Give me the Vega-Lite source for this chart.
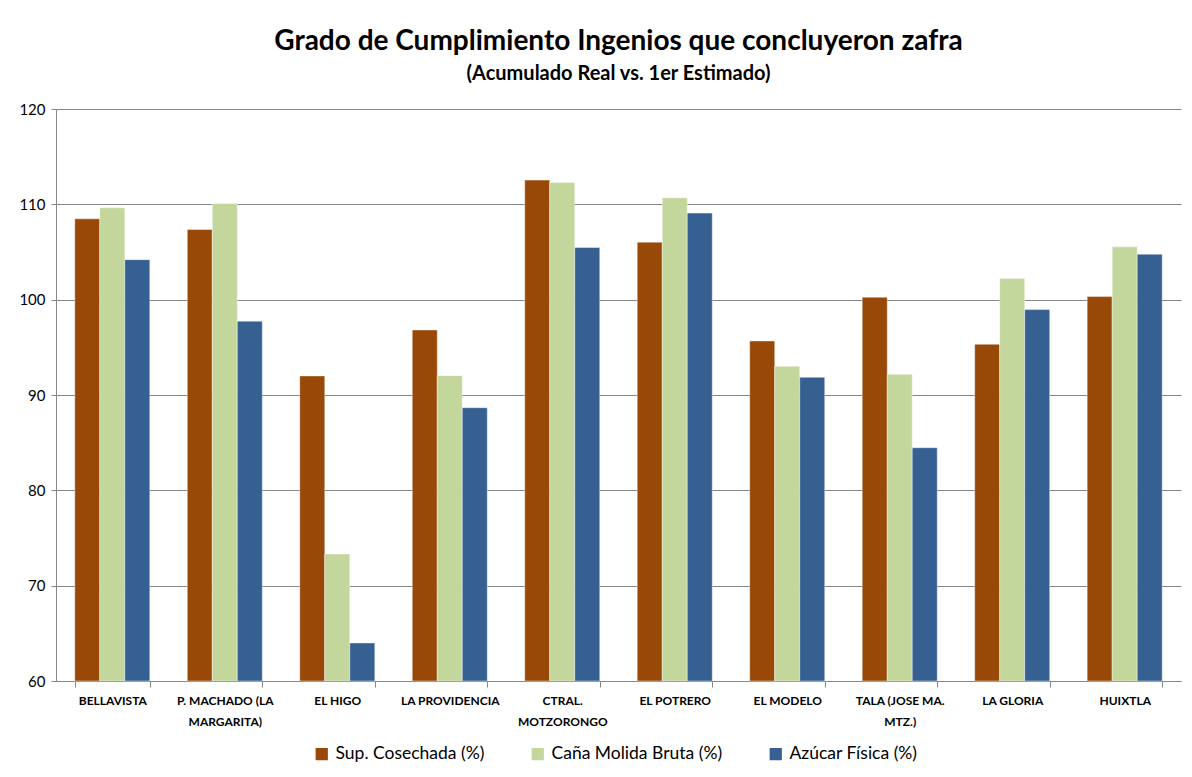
{
  "$schema": "https://vega.github.io/schema/vega-lite/v6.json",
  "autosize": {"type": "fit", "contains": "padding"},
  "width": 1192,
  "height": 777,
  "padding": {"left": 18, "right": 11, "top": 28, "bottom": 50},
  "background": "white",
  "title": {
    "text": "Grado de Cumplimiento Ingenios que concluyeron zafra",
    "subtitle": "(Acumulado Real vs. 1er Estimado)",
    "anchor": "middle",
    "font": "Lato",
    "fontSize": 28,
    "fontWeight": "bold",
    "color": "black",
    "subtitleFont": "Lato",
    "subtitleFontSize": 20,
    "subtitleFontWeight": "bold",
    "subtitleColor": "black",
    "subtitlePadding": 8,
    "offset": 18
  },
  "data": {
    "values": [
      {"ingenio": "BELLAVISTA", "serie": "Sup. Cosechada (%)", "valor": 108.48},
      {"ingenio": "BELLAVISTA", "serie": "Caña Molida Bruta (%)", "valor": 109.64},
      {"ingenio": "BELLAVISTA", "serie": "Azúcar Física (%)", "valor": 104.2},
      {"ingenio": "P. MACHADO (LA MARGARITA)", "serie": "Sup. Cosechada (%)", "valor": 107.36},
      {"ingenio": "P. MACHADO (LA MARGARITA)", "serie": "Caña Molida Bruta (%)", "valor": 110.09},
      {"ingenio": "P. MACHADO (LA MARGARITA)", "serie": "Azúcar Física (%)", "valor": 97.74},
      {"ingenio": "EL HIGO", "serie": "Sup. Cosechada (%)", "valor": 92.0},
      {"ingenio": "EL HIGO", "serie": "Caña Molida Bruta (%)", "valor": 73.33},
      {"ingenio": "EL HIGO", "serie": "Azúcar Física (%)", "valor": 63.99},
      {"ingenio": "LA PROVIDENCIA", "serie": "Sup. Cosechada (%)", "valor": 96.82},
      {"ingenio": "LA PROVIDENCIA", "serie": "Caña Molida Bruta (%)", "valor": 92.03},
      {"ingenio": "LA PROVIDENCIA", "serie": "Azúcar Física (%)", "valor": 88.67},
      {"ingenio": "CTRAL. MOTZORONGO", "serie": "Sup. Cosechada (%)", "valor": 112.54},
      {"ingenio": "CTRAL. MOTZORONGO", "serie": "Caña Molida Bruta (%)", "valor": 112.3},
      {"ingenio": "CTRAL. MOTZORONGO", "serie": "Azúcar Física (%)", "valor": 105.47},
      {"ingenio": "EL POTRERO", "serie": "Sup. Cosechada (%)", "valor": 106.03},
      {"ingenio": "EL POTRERO", "serie": "Caña Molida Bruta (%)", "valor": 110.69},
      {"ingenio": "EL POTRERO", "serie": "Azúcar Física (%)", "valor": 109.08},
      {"ingenio": "EL MODELO", "serie": "Sup. Cosechada (%)", "valor": 95.67},
      {"ingenio": "EL MODELO", "serie": "Caña Molida Bruta (%)", "valor": 93.01},
      {"ingenio": "EL MODELO", "serie": "Azúcar Física (%)", "valor": 91.86},
      {"ingenio": "TALA (JOSE MA. MTZ.)", "serie": "Sup. Cosechada (%)", "valor": 100.26},
      {"ingenio": "TALA (JOSE MA. MTZ.)", "serie": "Caña Molida Bruta (%)", "valor": 92.17},
      {"ingenio": "TALA (JOSE MA. MTZ.)", "serie": "Azúcar Física (%)", "valor": 84.47},
      {"ingenio": "LA GLORIA", "serie": "Sup. Cosechada (%)", "valor": 95.32},
      {"ingenio": "LA GLORIA", "serie": "Caña Molida Bruta (%)", "valor": 102.21},
      {"ingenio": "LA GLORIA", "serie": "Azúcar Física (%)", "valor": 98.96},
      {"ingenio": "HUIXTLA", "serie": "Sup. Cosechada (%)", "valor": 100.32},
      {"ingenio": "HUIXTLA", "serie": "Caña Molida Bruta (%)", "valor": 105.54},
      {"ingenio": "HUIXTLA", "serie": "Azúcar Física (%)", "valor": 104.77}
    ]
  },
  "mark": {"type": "bar", "stroke": "white", "strokeWidth": 0.6, "strokeOpacity": 0.7},
  "encoding": {
    "x": {
      "field": "ingenio",
      "type": "nominal",
      "sort": null,
      "scale": {"paddingInner": 0.333, "paddingOuter": 0.167},
      "axis": {
        "title": null,
        "labelAngle": 0,
        "labelFont": "Lato",
        "labelFontSize": 12,
        "labelFontWeight": "bold",
        "labelColor": "black",
        "labelPadding": 8,
        "labelLineHeight": 21,
        "labelLimit": 200,
        "labelExpr": "datum.label == 'P. MACHADO (LA MARGARITA)' ? ['P. MACHADO (LA', 'MARGARITA)'] : datum.label == 'CTRAL. MOTZORONGO' ? ['CTRAL.', 'MOTZORONGO'] : datum.label == 'TALA (JOSE MA. MTZ.)' ? ['TALA (JOSE MA.', 'MTZ.)'] : datum.label",
        "tickBand": "extent",
        "tickSize": 6,
        "tickColor": "#868686",
        "domainColor": "#868686",
        "grid": false
      }
    },
    "xOffset": {
      "field": "serie",
      "type": "nominal",
      "sort": ["Sup. Cosechada (%)", "Caña Molida Bruta (%)", "Azúcar Física (%)"]
    },
    "y": {
      "field": "valor",
      "type": "quantitative",
      "scale": {"domain": [60, 120], "nice": false, "zero": false},
      "axis": {
        "title": null,
        "values": [60, 70, 80, 90, 100, 110, 120],
        "labelFont": "Lato",
        "labelFontSize": 15,
        "labelColor": "black",
        "labelPadding": 6,
        "tickSize": 5,
        "tickColor": "#868686",
        "domainColor": "#868686",
        "grid": true,
        "gridColor": "#868686",
        "gridWidth": 1
      }
    },
    "y2": {"datum": 60},
    "color": {
      "field": "serie",
      "type": "nominal",
      "sort": ["Sup. Cosechada (%)", "Caña Molida Bruta (%)", "Azúcar Física (%)"],
      "scale": {
        "domain": ["Sup. Cosechada (%)", "Caña Molida Bruta (%)", "Azúcar Física (%)"],
        "range": ["#984807", "#C3D69B", "#376092"]
      },
      "legend": {
        "title": null,
        "orient": "none",
        "legendX": 257,
        "legendY": 636,
        "direction": "horizontal",
        "symbolType": "square",
        "symbolSize": 150,
        "symbolStrokeWidth": 0,
        "labelFont": "Lato",
        "labelFontSize": 17.5,
        "labelLimit": 400,
        "labelColor": "black",
        "labelOffset": 5,
        "columnPadding": 44
      }
    }
  },
  "config": {
    "view": {"stroke": null}
  }
}
